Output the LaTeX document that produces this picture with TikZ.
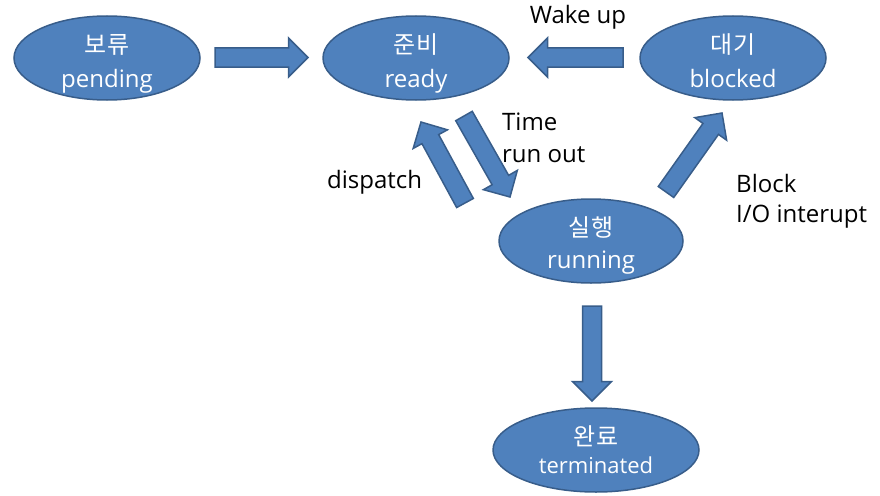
\documentclass[tikz,border=0pt]{standalone}
\usepackage{fontspec}
\setmainfont{Open Sans}
\newfontfamily\kr{Noto Sans CJK KR}
\usetikzlibrary{shapes.geometric,calc}
\definecolor{ofill}{HTML}{4F81BD}
\definecolor{oline}{HTML}{385D8A}
\tikzset{
  state/.style={ellipse, draw=oline, fill=ofill, line width=1.5pt, inner sep=0pt},
  krl/.style={text=white, anchor=base, inner sep=0pt, font=\kr\fontsize{24}{28}\selectfont},
  enl/.style={text=white, anchor=base, inner sep=0pt, font=\fontsize{24}{28}\selectfont},
  lbl/.style={text=black, anchor=base west, inner sep=0pt, font=\fontsize{24}{28}\selectfont},
  barr/.style={draw=oline, fill=ofill, line width=1.5pt, line join=miter}
}
\newcommand\blockarr[3]{%
  \coordinate (#1h) at ($(#3)!19.5pt!(#2)$);
  \draw[barr] ($(#2)!9.5pt!90:(#3)$) -- ($(#1h)!9.5pt!90:(#3)$) -- ($(#1h)!19.5pt!90:(#3)$)
    -- (#3) -- ($(#1h)!19.5pt!-90:(#3)$) -- ($(#1h)!9.5pt!-90:(#3)$) -- ($(#2)!9.5pt!-90:(#3)$) -- cycle;}
\begin{document}
\begin{tikzpicture}[x=1pt,y=-1pt]
\useasboundingbox (0,0) rectangle (880,495);
% states
\node[state, minimum width=186pt, minimum height=84pt] (pend) at (107,58) {};
\node[state, minimum width=186pt, minimum height=84pt] (ready) at (416,58) {};
\node[state, minimum width=186pt, minimum height=84pt] (blk) at (733,58) {};
\node[state, minimum width=184pt, minimum height=84pt] (run) at (591,241) {};
\node[state, minimum width=206pt, minimum height=84pt] (term) at (596,450) {};
% state labels
\node[krl] (pendk) at ($(pend)+(0,-5)$) {보류};
\node[enl] (pende) at ($(pend)+(0,29)$) {pending};
\node[krl] (readyk) at ($(ready)+(0,-5)$) {준비};
\node[enl] (readye) at ($(ready)+(0,29)$) {ready};
\node[krl] (blkk) at ($(blk)+(0,-5)$) {대기};
\node[enl] (blke) at ($(blk)+(0,29)$) {blocked};
\node[krl] (runk) at ($(run)+(0,-5)$) {실행};
\node[enl] (rune) at ($(run)+(0,27)$) {running};
\node[krl] (termk) at ($(term)+(0,-5)$) {완료};
\node[enl, font=\fontsize{22}{26}\selectfont] (terme) at ($(term)+(0,23)$) {terminated};
% arrow end points
\coordinate (a1s) at (215,57.5); \coordinate (a1e) at (308,57.5);
\coordinate (a2s) at (623,57.5); \coordinate (a2e) at (528,57.5);
\coordinate (a3s) at (464,116);  \coordinate (a3e) at (510,197);
\coordinate (a4s) at (465,203);  \coordinate (a4e) at (421,122);
\coordinate (a5s) at (666,192);  \coordinate (a5e) at (722,113);
\coordinate (a6s) at (592,306);  \coordinate (a6e) at (592,401);
\blockarr{pr}{a1s}{a1e}
\blockarr{br}{a2s}{a2e}
\blockarr{rr}{a3s}{a3e}
\blockarr{dr}{a4s}{a4e}
\blockarr{rb}{a5s}{a5e}
\blockarr{rt}{a6s}{a6e}
% edge labels
\node[lbl, anchor=base] (wake) at (578,24) {Wake up};
\node[lbl] (time1) at (502,130) {Time};
\node[lbl] (time2) at (502,162) {run out};
\node[lbl] (disp) at (327,188) {dispatch};
\node[lbl] (blk1) at (736,192) {Block};
\node[lbl] (blk2) at (736,222) {I/O interupt};
\end{tikzpicture}
\end{document}
